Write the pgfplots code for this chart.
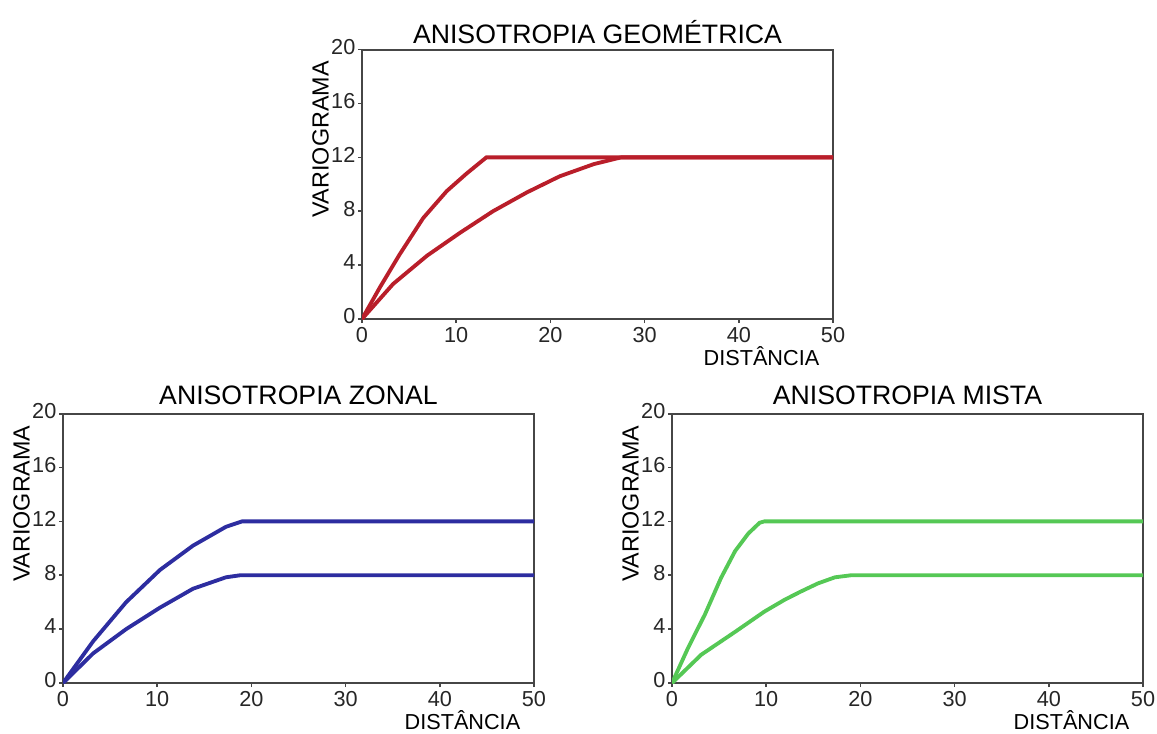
\documentclass[border=0pt]{standalone}
\usepackage{fontspec}
\setmainfont{Liberation Sans}
\usepackage{pgfplots}
\pgfplotsset{compat=1.18}

\definecolor{geored}{RGB}{185,30,42}
\definecolor{zonblue}{RGB}{45,45,160}
\definecolor{misgreen}{RGB}{85,200,85}
\definecolor{axgray}{RGB}{70,70,70}

\pgfplotsset{vario/.style={
  scale only axis, width=141.3pt, height=80.8pt,
  xmin=0, xmax=50, ymin=0, ymax=20,
  xtick={0,10,...,50}, ytick={0,4,...,20},
  xtick pos=lower, ytick pos=left,
  axis line style={axgray, line width=0.6pt},
  tick style={axgray, line width=0.5pt},
  tick align=outside, major tick length=1.2pt,
  /pgf/number format/assume math mode=true,
  tick label style={font=\fontsize{6.5}{7}\selectfont, text=black!85},
  yticklabel style={inner sep=0.6pt, yshift=0.8pt},
  xticklabel style={inner sep=1pt},
  % default title style already shifts by 6pt
  title style={font=\fontsize{8}{9}\selectfont, at={(0.5,1)}, anchor=center, yshift=-0.6pt},
  ylabel={VARIOGRAMA},
  ylabel style={font=\fontsize{7}{8}\selectfont, at={(axis description cs:-0.088,1)}, anchor=east},
  xlabel={DISTÂNCIA},
  xlabel style={font=\fontsize{6.5}{7}\selectfont, at={(axis description cs:1,0)}, anchor=east, yshift=-11pt, xshift=-0.6pt},
}}

\begin{document}
\begin{tikzpicture}
\useasboundingbox (0,0) rectangle (347.1pt,219.9pt);

% geometrica
\begin{axis}[vario, at={(108.6pt,124.2pt)}, anchor=south west,
  title={ANISOTROPIA GEOMÉTRICA}]
\addplot[geored, line width=1.15pt] coordinates {(0,0) (1.9,2.35) (4,4.8) (6.5,7.5) (9,9.5) (11.1,10.8) (13.2,12) (50,12)};
\addplot[geored, line width=1.15pt] coordinates {(0,0) (3.3,2.6) (6.9,4.7) (10.4,6.4) (13.9,8.0) (17.5,9.4) (21,10.6) (24.6,11.5) (27.5,12) (50,12)};
\end{axis}

% zonal
\begin{axis}[vario, at={(18.9pt,15pt)}, anchor=south west,
  title={ANISOTROPIA ZONAL}]
\addplot[zonblue, line width=1.15pt] coordinates {(0,0) (3.2,3.1) (6.7,6.0) (10.3,8.4) (13.8,10.2) (17.3,11.6) (19,12) (50,12)};
\addplot[zonblue, line width=1.15pt] coordinates {(0,0) (3.2,2.2) (6.7,4.0) (10.3,5.6) (13.8,7.0) (17.3,7.85) (18.8,8) (50,8)};
\end{axis}

% mista
\begin{axis}[vario, at={(201.6pt,15pt)}, anchor=south west,
  title={ANISOTROPIA MISTA}]
\addplot[misgreen, line width=1.15pt] coordinates {(0,0) (1.7,2.6) (3.5,5.1) (5.2,7.8) (6.7,9.8) (8.1,11.1) (9.3,11.9) (9.8,12) (50,12)};
\addplot[misgreen, line width=1.15pt] coordinates {(0,0) (3.1,2.1) (6.7,3.8) (9.8,5.3) (12,6.2) (13.7,6.8) (15.5,7.4) (17.3,7.85) (19,8) (50,8)};
\end{axis}
\end{tikzpicture}
\end{document}
